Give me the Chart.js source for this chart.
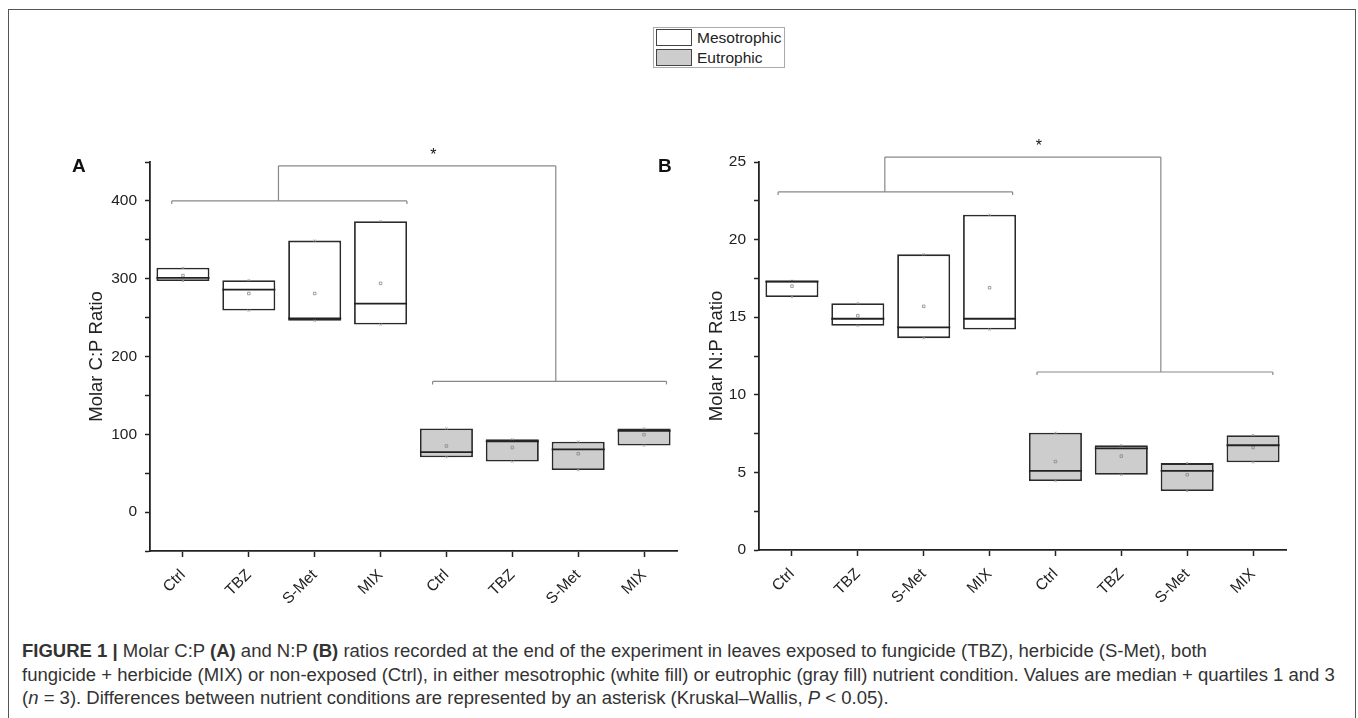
<!DOCTYPE html>
<html>
<head>
<meta charset="utf-8">
<script src="https://cdn.jsdelivr.net/npm/chart.js@4.4.1/dist/chart.umd.min.js"></script>
<style>
  body { margin: 0; width: 1358px; height: 718px; background: #fff; position: relative; overflow: hidden;
         font-family: "Liberation Sans", Arial, sans-serif; color: #222; }
  #frame { position: absolute; left: 8px; top: 9px; width: 1348px; height: 760px; border: 1.5px solid #555; box-sizing: border-box; }
  #legend { position: absolute; left: 653px; top: 27px; width: 132px; height: 41px; border: 1px solid #aaa; box-sizing: border-box; }
  #legend .row { position: absolute; left: 2px; height: 17px; display: flex; align-items: center; font-size: 15.5px; }
  #legend .sw { width: 36px; height: 17px; border: 1.5px solid #444; box-sizing: border-box; margin-right: 5px; }
  canvas { position: absolute; }
  #caption { position: absolute; left: 22px; top: 639px; font-size: 15px; line-height: 23.5px; white-space: nowrap; color: #333; }
</style>
</head>
<body>
<div id="frame"></div>
<div id="legend">
  <div class="row" style="top:1px"><div class="sw" style="background:#fff"></div>Mesotrophic</div>
  <div class="row" style="top:21px"><div class="sw" style="background:#cdcdcd"></div>Eutrophic</div>
</div>
<canvas id="chartA" width="700" height="530" style="left:0;top:100px"></canvas>
<canvas id="chartB" width="718" height="530" style="left:640px;top:100px"></canvas>
<div id="caption">
  <div><b>FIGURE 1 |</b> Molar C:P <b>(A)</b> and N:P <b>(B)</b> ratios recorded at the end of the experiment in leaves exposed to fungicide (TBZ), herbicide (S-Met), both</div>
  <div id="cap2">fungicide + herbicide (MIX) or non-exposed (Ctrl), in either mesotrophic (white fill) or eutrophic (gray fill) nutrient condition. Values are median + quartiles 1 and 3</div>
  <div>(<i>n</i> = 3). Differences between nutrient conditions are represented by an asterisk (Kruskal–Wallis, <i>P</i> &lt; 0.05).</div>
</div>
<script>
// Category labels (4 mesotrophic treatments then 4 eutrophic)
const categories = ['Ctrl', 'TBZ', 'S-Met', 'MIX', 'Ctrl', 'TBZ', 'S-Met', 'MIX'];

// Panel A - Molar C:P ratio
const cpMesoMin = [297, 259, 246, 241];
const cpMesoMedian = [301, 286, 249, 268];
const cpMesoMax = [314, 298, 349, 374];
const cpMesoMean = [304, 281, 281, 294];
const cpEutroMin = [70.5, 65, 54, 85.5];
const cpEutroMedian = [77, 91, 80.5, 104.5];
const cpEutroMax = [107.5, 93.5, 90.5, 107.5];
const cpEutroMean = [85, 83, 75, 99.5];

// Panel B - Molar N:P ratio
const npMesoMin = [16.3, 14.45, 13.65, 14.2];
const npMesoMedian = [17.3, 14.9, 14.35, 14.9];
const npMesoMax = [17.35, 15.9, 19.05, 21.6];
const npMesoMean = [17.0, 15.1, 15.7, 16.9];
const npEutroMin = [4.45, 4.85, 3.8, 5.65];
const npEutroMedian = [5.1, 6.55, 5.1, 6.75];
const npEutroMax = [7.55, 6.75, 5.6, 7.4];
const npEutroMean = [5.7, 6.05, 4.85, 6.6];

// Significance brackets (category index, value)
const cpBracket = { mesoFrom: -0.17, mesoTo: 3.40, mesoLevel: 400, mesoStem: 1.45,
                    eutroFrom: 3.79, eutroTo: 7.34, eutroLevel: 168, eutroStem: 5.66,
                    topLevel: 445, star: [3.80, 464] };
const npBracket = { mesoFrom: -0.21, mesoTo: 3.35, mesoLevel: 23.07, mesoStem: 1.41,
                    eutroFrom: 3.72, eutroTo: 7.30, eutroLevel: 11.47, eutroStem: 5.60,
                    topLevel: 25.32, star: [3.75, 26.3] };

const FONT = '"Liberation Sans", Arial, sans-serif';
const INK = '#222';

const padMeso = arr => arr.concat([null, null, null, null]);
const padEutro = arr => [null, null, null, null].concat(arr);
const ranges = (lo, hi) => lo.map((v, i) => [v, hi[i]]);

function boxDatasets(mesoMin, mesoMax, eutroMin, eutroMax, means) {
    const boxStyle = { type: 'bar', borderColor: '#2a2a2a', borderWidth: 1.8, borderSkipped: false,
                       grouped: false, barPercentage: 0.805, categoryPercentage: 1, order: 3 };
    return [
        Object.assign({ label: 'Mesotrophic', data: padMeso(ranges(mesoMin, mesoMax)), backgroundColor: '#ffffff' }, boxStyle),
        Object.assign({ label: 'Eutrophic', data: padEutro(ranges(eutroMin, eutroMax)), backgroundColor: '#cdcdcd' }, boxStyle),
        { type: 'line', label: 'mean', data: means, showLine: false, pointStyle: 'rect', pointRadius: 1.8,
          pointBorderWidth: 0.8, pointBorderColor: '#888', pointBackgroundColor: 'rgba(0,0,0,0)', order: 1 },
        { type: 'line', label: 'min', data: mesoMin.concat(eutroMin), showLine: false, pointStyle: 'crossRot', pointRadius: 1.6,
          pointBorderWidth: 0.8, pointBorderColor: '#999', order: 1 },
        { type: 'line', label: 'max', data: mesoMax.concat(eutroMax), showLine: false, pointStyle: 'crossRot', pointRadius: 1.6,
          pointBorderWidth: 0.8, pointBorderColor: '#999', order: 1 }
    ];
}

function annotations(medians, bracket, letter, letterX) {
    return {
        id: 'annotations',
        afterDatasetsDraw(chart) {
            const { ctx, scales: { x, y } } = chart;
            const X = v => x.getPixelForValue(v);
            const Y = v => y.getPixelForValue(v);
            const line = (x1, y1, x2, y2) => { ctx.beginPath(); ctx.moveTo(x1, y1); ctx.lineTo(x2, y2); ctx.stroke(); };
            ctx.save();

            // median lines across each box
            ctx.strokeStyle = INK;
            ctx.lineWidth = 1.8;
            medians.forEach((m, i) => {
                const bar = chart.getDatasetMeta(i < 4 ? 0 : 1).data[i];
                line(bar.x - bar.width / 2, Y(m), bar.x + bar.width / 2, Y(m));
            });

            // bracket between nutrient conditions
            ctx.strokeStyle = '#888';
            ctx.lineWidth = 1.2;
            const b = bracket;
            [[b.mesoFrom, b.mesoTo, b.mesoLevel], [b.eutroFrom, b.eutroTo, b.eutroLevel]].forEach(([f, t, lv]) => {
                line(X(f), Y(lv), X(t), Y(lv));
                line(X(f), Y(lv), X(f), Y(lv) + 3);
                line(X(t), Y(lv), X(t), Y(lv) + 3);
            });
            line(X(b.mesoStem), Y(b.mesoLevel), X(b.mesoStem), Y(b.topLevel));
            line(X(b.mesoStem), Y(b.topLevel), X(b.eutroStem), Y(b.topLevel));
            line(X(b.eutroStem), Y(b.topLevel), X(b.eutroStem), Y(b.eutroLevel));

            ctx.fillStyle = '#111';
            ctx.textAlign = 'center';
            ctx.font = '16px ' + FONT;
            ctx.fillText('*', X(b.star[0]), Y(b.star[1]) + 9);

            // panel letter
            ctx.textAlign = 'left';
            ctx.font = 'bold 19px ' + FONT;
            ctx.fillText(letter, letterX, 72);
            ctx.restore();
        }
    };
}

function makePanel(canvasId, p) {
    return new Chart(document.getElementById(canvasId), {
        type: 'bar',
        data: {
            labels: categories,
            datasets: boxDatasets(p.mesoMin, p.mesoMax, p.eutroMin, p.eutroMax, p.mesoMean.concat(p.eutroMean))
        },
        options: {
            responsive: false,
            animation: false,
            layout: { padding: { left: 0, top: p.top, right: p.right, bottom: 0 } },
            plugins: { legend: { display: false }, tooltip: { enabled: false } },
            scales: {
                x: {
                    type: 'category',
                    offset: true,
                    grid: { display: true, offset: false, drawOnChartArea: false, tickLength: 6, tickColor: INK, tickWidth: 1.5 },
                    border: { color: INK, width: 1.8 },
                    ticks: { color: INK, font: { family: FONT, size: 15.5 }, minRotation: 45, maxRotation: 45, autoSkip: false, padding: 9 },
                    afterFit: s => { s.height = p.xHeight; }
                },
                y: {
                    min: p.yMin,
                    max: p.yMax,
                    grid: { display: true, drawOnChartArea: false, tickLength: 5, tickColor: INK, tickWidth: 1.5 },
                    border: { color: INK, width: 1.8 },
                    ticks: { stepSize: p.step, autoSkip: false, color: INK, padding: 8,
                             font: { family: FONT, size: 15.5 }, callback: p.tickLabel },
                    title: { display: true, text: p.title, color: INK, font: { family: FONT, size: 18.5 },
                             padding: { top: p.titlePad, bottom: 0 } },
                    afterFit: s => { s.width = p.yWidth; }
                }
            }
        },
        plugins: [annotations(p.mesoMedian.concat(p.eutroMedian), p.bracket, p.letter, p.letterX)]
    });
}

makePanel('chartA', {
    mesoMin: cpMesoMin, mesoMax: cpMesoMax, mesoMean: cpMesoMean, mesoMedian: cpMesoMedian,
    eutroMin: cpEutroMin, eutroMax: cpEutroMax, eutroMean: cpEutroMean, eutroMedian: cpEutroMedian,
    bracket: cpBracket, letter: 'A', letterX: 72,
    yMin: -50, yMax: 450, step: 50, title: 'Molar C:P Ratio',
    tickLabel: v => (v >= 0 && v % 100 === 0) ? String(v) : '',
    top: 62, right: 23, xHeight: 79, yWidth: 150, titlePad: 86
});

makePanel('chartB', {
    mesoMin: npMesoMin, mesoMax: npMesoMax, mesoMean: npMesoMean, mesoMedian: npMesoMedian,
    eutroMin: npEutroMin, eutroMax: npEutroMax, eutroMean: npEutroMean, eutroMedian: npEutroMedian,
    bracket: npBracket, letter: 'B', letterX: 18,
    yMin: 0, yMax: 25, step: 2.5, title: 'Molar N:P Ratio',
    tickLabel: v => (Math.abs(v % 5) < 1e-6) ? String(v) : '',
    top: 62, right: 72, xHeight: 80, yWidth: 119, titlePad: 66
});

// Stretch caption so the full second line spans the same width as in the figure
const cap2 = document.getElementById('cap2');
const caption = document.getElementById('caption');
const w = cap2.getBoundingClientRect().width;
caption.style.fontSize = (15 * 1314 / w).toFixed(2) + 'px';
</script>
</body>
</html>
